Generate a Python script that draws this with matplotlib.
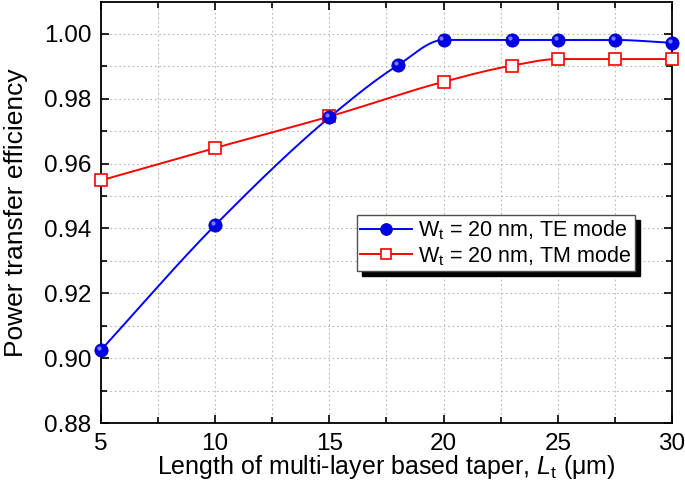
import numpy as np
import matplotlib
matplotlib.use("Agg")
import matplotlib.pyplot as plt
from matplotlib.ticker import MultipleLocator
from matplotlib.transforms import ScaledTranslation

# data
te_x = [5, 10, 15, 18, 20, 23, 25, 27.5, 30]
te_y = [0.9025, 0.9410, 0.9742, 0.9903, 0.9981, 0.9981, 0.9981, 0.9981, 0.9972]
tm_x = [5, 10, 15, 20, 23, 25, 27.5, 30]
tm_y = [0.9548, 0.9648, 0.9745, 0.9852, 0.9902, 0.9922, 0.9922, 0.9922]

te_label = r"W$\mathregular{_t}$ = 20 nm, TE mode"
tm_label = r"W$\mathregular{_t}$ = 20 nm, TM mode"


def smooth(x, y, n=300):
    # monotone cubic (Fritsch-Carlson) through the points, like Origin's spline line
    x = np.asarray(x, float)
    y = np.asarray(y, float)
    h = np.diff(x)
    d = np.diff(y) / h
    m = np.zeros_like(y)
    m[0], m[-1] = d[0], d[-1]
    for i in range(1, len(x) - 1):
        if d[i - 1] * d[i] <= 0:
            m[i] = 0
        else:
            w1 = 2 * h[i] + h[i - 1]
            w2 = h[i] + 2 * h[i - 1]
            m[i] = (w1 + w2) / (w1 / d[i - 1] + w2 / d[i])
    xs = np.linspace(x[0], x[-1], n)
    k = np.clip(np.searchsorted(x, xs) - 1, 0, len(x) - 2)
    t = (xs - x[k]) / h[k]
    h00 = 2 * t**3 - 3 * t**2 + 1
    h10 = t**3 - 2 * t**2 + t
    h01 = -2 * t**3 + 3 * t**2
    h11 = t**3 - t**2
    ys = h00 * y[k] + h10 * h[k] * m[k] + h01 * y[k + 1] + h11 * h[k] * m[k + 1]
    return xs, ys


plt.rcParams["font.family"] = ["Liberation Sans", "DejaVu Sans"]
plt.rcParams["mathtext.fontset"] = "custom"
plt.rcParams["mathtext.rm"] = "Liberation Sans"
plt.rcParams["mathtext.it"] = "Liberation Sans:italic"

fig = plt.figure(figsize=(6.85, 4.98), dpi=100)
ax = fig.add_axes([0.1474, 0.1506, 0.8336, 0.8454])

blue = "#0000ff"
red = "#ff0000"

xs, ys = smooth(te_x, te_y)
ax.plot(xs, ys, color=blue, lw=1.4, zorder=3)
xs, ys = smooth(tm_x, tm_y)
ax.plot(xs, ys, color=red, lw=1.4, zorder=3)

ax.plot(tm_x, tm_y, ls="none", marker="s", ms=8, mfc="white", mec=red,
        mew=1.2, zorder=4, clip_on=False)
ax.plot(te_x, te_y, ls="none", marker="o", ms=9.5, mfc="#0000e8", mec="#0000b0",
        mew=0.6, zorder=5, clip_on=False)
# highlight to give the balls a bit of shine
hl = ax.transData + ScaledTranslation(-1.5 / 72, 1.5 / 72, fig.dpi_scale_trans)
ax.plot(te_x, te_y, ls="none", marker="o", ms=3, mfc="#9090ff", mec="none",
        alpha=0.85, zorder=6, transform=hl, clip_on=False)

ax.set_xlim(5, 30)
ax.set_ylim(0.88, 1.0098)
ax.xaxis.set_major_locator(MultipleLocator(5))
ax.xaxis.set_minor_locator(MultipleLocator(2.5))
ax.yaxis.set_major_locator(MultipleLocator(0.02))
ax.yaxis.set_minor_locator(MultipleLocator(0.01))
ax.yaxis.set_major_formatter(plt.FormatStrFormatter("%.2f"))

ax.tick_params(which="both", direction="in", top=True, right=True,
               labelsize=17.5, width=1.2)
ax.tick_params(which="major", length=6, pad=7)
ax.tick_params(which="minor", length=4)
for s in ax.spines.values():
    s.set_linewidth(1.3)

ax.grid(which="both", color="#b8b8b8", ls=(0, (1.5, 2.5)), lw=0.8)
ax.set_axisbelow(True)

ax.set_xlabel(r"Length of multi-layer based taper, $\mathit{L}\mathregular{_t}$ (μm)",
              fontsize=18, labelpad=-1)
ax.set_ylabel("Power transfer efficiency", fontsize=19, labelpad=11)

# legend handles
h1, = ax.plot([], [], color=blue, lw=1.4, marker="o", ms=8.5, mfc="#0000e8",
              mec="#0000b0", mew=0.6)
h2, = ax.plot([], [], color=red, lw=1.4, marker="s", ms=7.5, mfc="white",
              mec=red, mew=1.2)

# solid black shadow about 5 px right and down of the box
leg = ax.legend([h1, h2], [te_label, tm_label], loc="upper left",
                bbox_to_anchor=(0.448, 0.494), fontsize=15.5,
                handlelength=2.4, handletextpad=0.3, borderpad=0.15,
                labelspacing=0.1, borderaxespad=0, fancybox=False,
                framealpha=1, edgecolor="#505050",
                shadow={"color": "black", "alpha": 1, "ox": 3.6, "oy": -3.6})
leg.get_frame().set_linewidth(1.0)
leg.set_zorder(10)

fig.savefig("out.png", dpi=100)
